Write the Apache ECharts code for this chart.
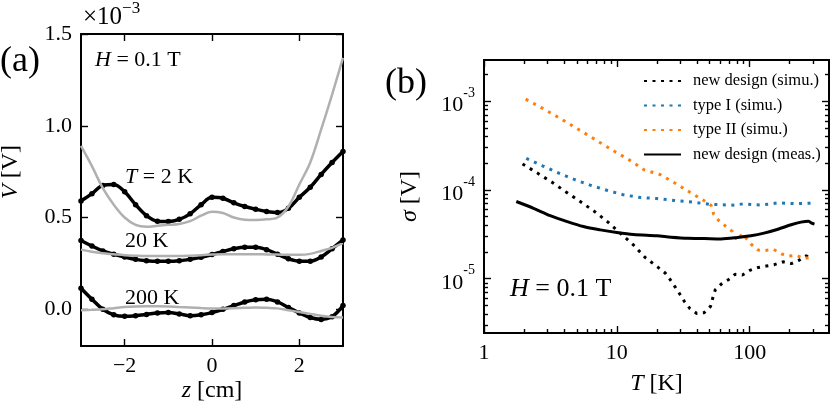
<!DOCTYPE html>
<html><head><meta charset="utf-8">
<script src="https://cdn.jsdelivr.net/npm/echarts@6/dist/echarts.min.js"></script>
<style>html,body{margin:0;padding:0;background:#fff}#c{width:831px;height:401px}</style>
</head><body><div id="c"></div>
<script>
// ---------- Panel (a): V(z) in units of 1e-3 V ----------
const zGrid = [-3,-2.75,-2.5,-2.25,-2,-1.75,-1.5,-1.25,-1,-0.75,-0.5,-0.25,0,0.25,0.5,0.75,1,1.25,1.5,1.75,2,2.25,2.5,2.75,3];
const v2KMeas   = [0.59,0.63,0.675,0.68,0.64,0.57,0.51,0.48,0.478,0.49,0.52,0.57,0.61,0.605,0.58,0.56,0.545,0.533,0.527,0.55,0.61,0.665,0.735,0.80,0.86];
const v2KSim    = [0.89,0.78,0.66,0.57,0.50,0.46,0.45,0.455,0.46,0.465,0.48,0.51,0.532,0.525,0.50,0.488,0.487,0.49,0.50,0.56,0.68,0.80,0.98,1.17,1.37];
const v20KMeas  = [0.375,0.345,0.318,0.30,0.285,0.272,0.265,0.262,0.262,0.265,0.272,0.283,0.298,0.315,0.33,0.338,0.338,0.325,0.30,0.275,0.262,0.262,0.285,0.33,0.378];
const v20KSim   = [0.325,0.313,0.305,0.30,0.295,0.292,0.29,0.29,0.29,0.29,0.292,0.295,0.298,0.30,0.30,0.30,0.30,0.299,0.298,0.297,0.297,0.302,0.318,0.335,0.36];
const v200KMeas = [0.115,0.055,0.0,-0.03,-0.038,-0.035,-0.028,-0.02,-0.018,-0.025,-0.035,-0.03,-0.018,0.0,0.02,0.04,0.052,0.055,0.04,0.01,-0.02,-0.045,-0.055,-0.04,0.02];
const v200KSim  = [-0.005,-0.003,0.0,0.006,0.012,0.015,0.016,0.016,0.015,0.012,0.01,0.007,0.005,0.005,0.006,0.008,0.01,0.008,0.005,-0.005,-0.015,-0.025,-0.035,-0.042,-0.045];
const aXTicks = [-2,0,2];
const aYTicks = [0,0.5,1.0,1.5];

// ---------- Panel (b): sigma(T) ----------
const tNewSimu = [1.95,2.5,3.25,4.14,5.3,6.85,8.57,10.6,13.3,16.3,20.2,23.1,25.2,27.5,30,32.3,35.4,39.9,45.4,50.7,52.7,55,61,69,77.5,88,100,116,133,153,178,206,234,266,297];
const sNewSimu = [1.96e-4,1.56e-4,1.22e-4,9.5e-5,7.4e-5,5.66e-5,4.34e-5,3.26e-5,2.41e-5,1.74e-5,1.36e-5,1.16e-5,9.75e-6,8.05e-6,6.6e-6,5.52e-6,4.63e-6,4.07e-6,4.15e-6,4.89e-6,6.07e-6,7.5e-6,8.7e-6,9.75e-6,1.12e-5,1.1e-5,1.24e-5,1.34e-5,1.39e-5,1.44e-5,1.55e-5,1.48e-5,1.61e-5,1.81e-5,1.66e-5];
const tTypeI = [2.08,2.75,3.6,4.72,6.3,8.4,11.2,15,20,27.2,36.7,49.4,66.3,77,89,103,120,139,162,218,290];
const sTypeI = [2.27e-4,1.87e-4,1.56e-4,1.32e-4,1.13e-4,9.9e-5,8.8e-5,8.2e-5,8.0e-5,7.6e-5,7.3e-5,6.9e-5,6.78e-5,6.73e-5,6.97e-5,6.84e-5,6.78e-5,6.9e-5,7.14e-5,7.0e-5,7.08e-5];
const tTypeII = [2.06,2.68,3.48,4.49,5.8,7.5,9.7,12.5,16.1,21.1,27.5,35.5,45.8,51.2,53.6,58.6,66,74,80,88,103,116,131,151,174,197,226,254,300];
const sTypeII = [1.05e-3,8.5e-4,6.8e-4,5.42e-4,4.3e-4,3.4e-4,2.69e-4,2.16e-4,1.68e-4,1.49e-4,1.19e-4,9.4e-5,7.5e-5,6.7e-5,5.3e-5,4.5e-5,3.9e-5,3.4e-5,2.7e-5,3.2e-5,2.43e-5,2.1e-5,2.08e-5,2.14e-5,1.9e-5,1.8e-5,1.83e-5,1.69e-5,1.75e-5];
const tMeas = [1.75,2.36,3.15,4.23,5.6,7.5,10,13.3,20,25.6,34.3,45.5,60.8,81,102,128,163,205,243,277,293,307];
const sMeas = [7.4e-5,6.2e-5,5.14e-5,4.4e-5,3.87e-5,3.55e-5,3.32e-5,3.15e-5,3.04e-5,2.94e-5,2.86e-5,2.84e-5,2.81e-5,2.91e-5,3.04e-5,3.26e-5,3.61e-5,4.05e-5,4.34e-5,4.45e-5,4.22e-5,4.12e-5];
const legendNames = ['new design (simu.)','type I (simu.)','type II (simu.)','new design (meas.)'];
const bXTicks = [1,10,100];
const bXMinor = [2,3,4,5,6,7,8,9,20,30,40,50,60,70,80,90,200,300];
const bYTicks = [1e-5,1e-4,1e-3];
const bYMinor = [3e-6,4e-6,5e-6,6e-6,7e-6,8e-6,9e-6,2e-5,3e-5,4e-5,5e-5,6e-5,7e-5,8e-5,9e-5,2e-4,3e-4,4e-4,5e-4,6e-4,7e-4,8e-4,9e-4,2e-3];

const FONT = '"Liberation Serif", "Times New Roman", "DejaVu Serif", serif';
const K = '#000';
const zip = (a, b) => a.map((v, i) => [v, b[i]]);

function frame(base, tickVals, tickLen, label) {
  return Object.assign({
    axisLine: {show: true, onZero: false, lineStyle: {color: K, width: 2}},
    splitLine: {show: false},
    axisTick: {show: true, inside: true, length: tickLen, customValues: tickVals, lineStyle: {color: K, width: 1.4}},
    axisLabel: label ? label : {show: false},
    nameMoveOverlap: false
  }, base);
}
const lblA = (vals, fmt) => ({show: true, customValues: vals, margin: 9, fontFamily: FONT, fontSize: 22, color: K, formatter: fmt});
const supRich = {b: {fontFamily: FONT, fontSize: 22, color: K, lineHeight: 30, verticalAlign: 'bottom'},
                 s: {fontFamily: FONT, fontSize: 14, color: K, lineHeight: 14, verticalAlign: 'top'}};
const nameStyle = (sz) => ({fontFamily: FONT, fontSize: sz, color: K, rich: {i: {fontFamily: FONT, fontSize: sz, fontStyle: 'italic', color: K}}});

const fmtZ = v => v < 0 ? '\u2212' + Math.abs(v) : String(v);
const fmtV = v => v.toFixed(1);
const fmtLogY = v => '{b|10}{s|' + Math.round(Math.log10(v)) + '}';
const fmtLogX = v => String(Math.round(v));

const xA = {gridIndex: 0, type: 'value', min: -3, max: 3};
const yA = {gridIndex: 0, type: 'value', min: -0.2, max: 1.5};
const xB = {gridIndex: 1, type: 'log', logBase: 10, min: 1, max: 395};
const yB = {gridIndex: 1, type: 'log', logBase: 10, min: 2.45e-6, max: 2.9e-3};

const xAxes = [
  frame(Object.assign({}, xA, {position: 'bottom', name: '{i|z} [cm]', nameLocation: 'middle', nameGap: 33, nameTextStyle: nameStyle(24)}), aXTicks, 7, lblA(aXTicks, fmtZ)),
  frame(Object.assign({}, xA, {position: 'top'}), aXTicks, 7),
  frame(Object.assign({}, xB, {position: 'bottom', name: '{i|T} [K]', nameLocation: 'middle', nameGap: 39, nameTextStyle: nameStyle(24)}), bXTicks, 7, lblA(bXTicks, fmtLogX)),
  frame(Object.assign({}, xB, {position: 'bottom'}), bXMinor, 4),
  frame(Object.assign({}, xB, {position: 'top'}), bXTicks, 7),
  frame(Object.assign({}, xB, {position: 'top'}), bXMinor, 4)
];
const yLblB = {show: true, customValues: bYTicks, margin: 9, formatter: fmtLogY, rich: supRich};
const yAxes = [
  frame(Object.assign({}, yA, {position: 'left'}), aYTicks, 7, lblA(aYTicks, fmtV)),
  frame(Object.assign({}, yA, {position: 'right'}), aYTicks, 7),
  frame(Object.assign({}, yB, {position: 'left', name: '{i|\u03c3} [V]', nameLocation: 'middle', nameRotate: 90, nameGap: 62, nameTextStyle: nameStyle(24)}), bYTicks, 7, yLblB),
  frame(Object.assign({}, yB, {position: 'left'}), bYMinor, 4),
  frame(Object.assign({}, yB, {position: 'right'}), bYTicks, 7),
  frame(Object.assign({}, yB, {position: 'right'}), bYMinor, 4)
];

const measA = (d) => ({type: 'line', xAxisIndex: 0, yAxisIndex: 0, data: zip(zGrid, d), smooth: 0.35,
  symbol: 'circle', symbolSize: 5.5, itemStyle: {color: K}, lineStyle: {color: K, width: 3.5}, z: 2, silent: true});
const simA = (d) => ({type: 'line', xAxisIndex: 0, yAxisIndex: 0, data: zip(zGrid, d), smooth: 0.35,
  symbol: 'none', lineStyle: {color: '#b0b0b0', width: 2.5}, z: 3, silent: true});
const dotted = (name, t, s, color) => ({name, type: 'line', xAxisIndex: 2, yAxisIndex: 2, data: zip(t, s),
  symbol: 'none', itemStyle: {color}, lineStyle: {color, width: 3, type: [3, 5.5], cap: 'butt'}});

const option = {
  animation: false,
  backgroundColor: '#fff',
  grid: [
    {left: 81, top: 34, width: 262, height: 312, containLabel: false, outerBoundsMode: 'none'},
    {left: 484, top: 60, width: 345, height: 273, containLabel: false, outerBoundsMode: 'none'}
  ],
  xAxis: xAxes,
  yAxis: yAxes,
  legend: {
    data: legendNames, orient: 'vertical', left: 638, top: 67,
    itemWidth: 37, itemHeight: 14, itemGap: 6.5,
    itemStyle: {opacity: 0},
    textStyle: {fontFamily: FONT, fontSize: 16.5, color: K, lineHeight: 18, padding: [0, 0, 0, 7]}
  },
  series: [
    measA(v2KMeas), measA(v20KMeas), measA(v200KMeas),
    simA(v2KSim), simA(v20KSim), simA(v200KSim),
    dotted(legendNames[0], tNewSimu, sNewSimu, '#000000'),
    dotted(legendNames[1], tTypeI, sTypeI, '#1f77b4'),
    dotted(legendNames[2], tTypeII, sTypeII, '#ff7f0e'),
    {name: legendNames[3], type: 'line', xAxisIndex: 2, yAxisIndex: 2, data: zip(tMeas, sMeas), smooth: 0.3,
     symbol: 'none', itemStyle: {color: K}, lineStyle: {color: K, width: 3}}
  ],
  graphic: [
    {type: 'text', left: 0, top: 44, style: {text: '(a)', fontFamily: FONT, fontSize: 36, fill: K}},
    {type: 'text', left: 385, top: 66, style: {text: '(b)', fontFamily: FONT, fontSize: 36, fill: K}},
    {type: 'text', left: 83, top: 0, style: {text: '{m|\u00d710}{s|\u22123}', fill: K,
      rich: {m: {fontFamily: FONT, fontSize: 25, lineHeight: 30, verticalAlign: 'bottom'},
             s: {fontFamily: FONT, fontSize: 17, lineHeight: 17, verticalAlign: 'top'}}}},
    {type: 'text', left: 95, top: 49, style: {text: '{i|H} = 0.1 T', fontFamily: FONT, fontSize: 22, fill: K,
      rich: {i: {fontFamily: FONT, fontSize: 22, fontStyle: 'italic'}}}},
    {type: 'text', left: 125, top: 166, style: {text: '{i|T} = 2 K', fontFamily: FONT, fontSize: 22, fill: K,
      rich: {i: {fontFamily: FONT, fontSize: 22, fontStyle: 'italic'}}}},
    {type: 'text', left: 125, top: 230, style: {text: '20 K', fontFamily: FONT, fontSize: 22, fill: K}},
    {type: 'text', left: 125, top: 287, style: {text: '200 K', fontFamily: FONT, fontSize: 22, fill: K}},
    {type: 'text', left: 510, top: 276, style: {text: '{i|H} = 0.1 T', fontFamily: FONT, fontSize: 26, fill: K,
      rich: {i: {fontFamily: FONT, fontSize: 26, fontStyle: 'italic'}}}},
    {type: 'text', x: 11, y: 172, rotation: Math.PI / 2, style: {text: '{i|V} [V]', fontFamily: FONT, fontSize: 24, fill: K,
      align: 'center', verticalAlign: 'middle', textAlign: 'center', textVerticalAlign: 'middle',
      rich: {i: {fontFamily: FONT, fontSize: 24, fontStyle: 'italic'}}}}
  ]
};
const chart = echarts.init(document.getElementById('c'), null, {renderer: 'canvas'});
chart.setOption(option);
</script></body></html>
